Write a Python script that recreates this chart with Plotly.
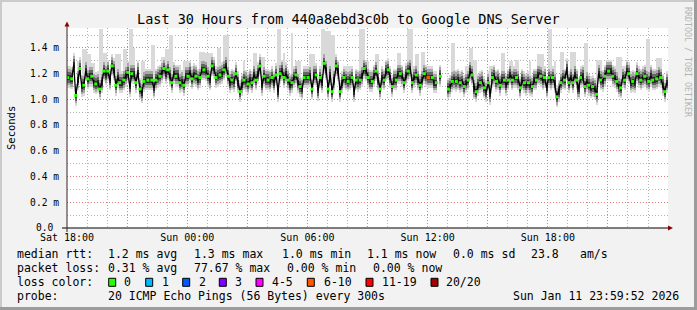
import plotly.graph_objects as go
import pandas as pd

# ---------------- data ----------------
# median RTT in ms, one value every 6 minutes (None = no data)
median_ms = [
    1.17, 1.17, 1.16, 1.27, 1.03, 1.15, 1.24, 1.10, 1.11, 1.22,
    1.16, 1.18, 1.18, 1.13, 1.12, 1.13, 1.08, 1.13, 1.22, 1.19,
    1.22, 1.15, 1.26, 1.23, 1.11, 1.17, 1.13, 1.13, 1.15, 1.18,
    1.21, 1.10, 1.20, 1.20, 1.13, 1.21, 1.08, 1.05, 1.14, 1.15,
    1.15, 1.15, 1.15, 1.09, 1.15, 1.17, 1.18, 1.21, 1.24, 1.20,
    1.23, 1.18, 1.13, 1.20, 1.18, 1.18, 1.13, 1.14, 1.11, 1.18,
    1.18, 1.21, 1.16, 1.19, 1.18, 1.15, 1.17, 1.23, 1.23, 1.22,
    1.18, 1.15, 1.26, 1.24,
    1.17, 1.18, 1.19, 1.20, 1.23, 1.26, 1.18, 1.13, 1.15, 1.14,
    1.20, 1.13, 1.06, 1.11, 1.15, 1.14, 1.12, 1.15, 1.13, 1.19,
    1.15, 1.20, 1.26, 1.11, 1.18, 1.15, 1.15, 1.14, 1.17, 1.13,
    1.19, 1.06, 1.20, 1.22, 1.17, 1.20, 1.15, 1.11, 1.13, 1.17,
    1.19, 1.13, 1.10, 1.08, 1.17, 1.17, 1.17, 1.18, 1.08, 1.19,
    1.19, 1.07, 1.17, 1.13, 1.28, 1.23, 1.08, 1.19, 1.06, 1.15,
    1.26, 1.22, 1.06, 1.13, 1.17, 1.15, 1.14, 1.15, 1.17, 1.06,
    1.15, 1.14, 1.15, 1.18, 1.24, 1.22,
    1.17, 1.14, 1.14, 1.18, 1.22, 1.15, 1.08, 1.17, 1.15, 1.22,
    1.23, 1.17, 1.10, 1.15, 1.15, 1.20, 1.20, 1.18, 1.13, 1.19,
    1.22, 1.24, 1.13, 1.17, 1.19, 1.15, 1.11, 1.15, 1.20, 1.18,
    1.17, 1.17, 1.17, 1.13, 1.13, None, 1.18, None, None, None,
    1.08, 1.10, 1.14, 1.15, 1.14, 1.15, 1.13, 1.14, 1.10, 1.13,
    1.15, 1.22, 1.19, 1.08, 1.06, 1.11, 1.13, 1.14, 1.09, 1.06,
    1.13, 1.04, 1.17, 1.18, 1.14, 1.15, 1.11, 1.15, 1.15, 1.11,
    1.15, 1.19, 1.15, 1.17, 1.17,
    1.15, 1.09, 1.15, 1.13, 1.11, 1.13, 1.11, 1.10, 1.15, 1.15,
    1.19, 1.18, 1.15, 1.17, 1.09, 1.17, 1.15, 1.17, 1.13, 1.02,
    1.06, 1.13, 1.16, 1.15, 1.23, 1.13, 1.17, 1.13, 1.19, 1.15,
    1.08, 1.17, 1.18, 1.10, 1.14, 1.11, 1.09, 1.10, 1.08, 1.04,
    1.20, 1.15, 1.14, 1.18, 1.22, 1.22, 1.22, 1.18, 1.17, 1.14,
    1.10, 1.09, 1.17, 1.15, 1.22, 1.20, 1.13, 1.14, 1.13, 1.20,
    1.17, 1.15, 1.17, 1.18, 1.15, 1.14, 1.18, 1.15, 1.15, 1.16,
    1.18, 1.17, 1.11, 1.06, 1.13,
]

# highest ping (light smoke top) where it rises well above the usual spread:
# (first sample index, last sample index, top in ms)
spike_ranges = [
    (5, 6, 1.30), (8, 9, 1.39), (10, 11, 1.35), (12, 13, 1.28), (16, 17, 1.55),
    (18, 19, 1.36), (20, 20, 1.30), (23, 23, 1.32), (24, 26, 1.35), (28, 29, 1.39),
    (31, 32, 1.55), (33, 33, 1.40), (37, 38, 1.30), (42, 43, 1.42), (47, 48, 1.33),
    (49, 50, 1.39), (51, 52, 1.50), (54, 56, 1.27), (58, 60, 1.30), (62, 64, 1.26),
    (66, 68, 1.37), (69, 72, 1.36), (75, 76, 1.40), (78, 80, 1.50), (88, 88, 1.30),
    (93, 94, 1.36), (97, 98, 1.33), (105, 106, 1.55), (108, 108, 1.36), (112, 112, 1.52),
    (114, 116, 1.30), (121, 123, 1.35), (127, 128, 1.55), (129, 131, 1.53), (132, 133, 1.50),
    (134, 135, 1.30), (139, 141, 1.26), (146, 148, 1.55), (149, 150, 1.30), (154, 155, 1.35),
    (159, 160, 1.30), (165, 166, 1.36), (170, 172, 1.55), (174, 175, 1.35), (177, 178, 1.37),
    (192, 193, 1.44), (199, 200, 1.26), (201, 202, 1.40), (203, 204, 1.31), (211, 212, 1.26),
    (217, 218, 1.36), (221, 222, 1.30), (224, 225, 1.31), (231, 231, 1.30), (235, 237, 1.35),
    (240, 241, 1.55), (243, 243, 1.30), (246, 247, 1.37), (251, 253, 1.37), (258, 259, 1.44),
    (264, 266, 1.31), (269, 270, 1.30), (274, 276, 1.33), (277, 279, 1.26), (289, 290, 1.47),
    (294, 296, 1.32),
]

loss_index = 180          # sample with 6-10 lost pings
loss_index_color = '#ff5500'

y_tickvals = [0.0, 0.2, 0.4, 0.6, 0.8, 1.0, 1.2, 1.4]
y_ticktext = ['0.0\u00a0', '0.2 m', '0.4 m', '0.6 m', '0.8 m', '1.0 m', '1.2 m', '1.4 m']
x_ticktext = ['Sat 18:00', '', 'Sun 00:00', '', 'Sun 06:00', '', 'Sun 12:00', '',
              'Sun 18:00', '', '']

stats_rtt = ['1.2 ms avg', '1.3 ms max', '1.0 ms min', '1.1 ms now', '0.0 ms sd', '23.8', 'am/s']
stats_loss = ['0.31 % avg', '77.67 % max', '0.00 % min', '0.00 % now']
loss_labels = ['0', '1', '2', '3', '4-5', '6-10', '11-19', '20/20']
loss_colors = ['#26ff00', '#00b8ff', '#0059ff', '#7e00ff', '#ff00ff', '#ff5500', '#ff0000', '#a10000']
probe_text = '20 ICMP Echo Pings (56 Bytes) every 300s'
stamp_text = 'Sun Jan 11 23:59:52 2026'
title_text = 'Last 30 Hours from 440a8ebd3c0b to Google DNS Server'

# ---------------- geometry / style ----------------
W, H = 697, 310
L, R, T, B = 67, 29, 28, 82
PW, PH = W - L - R, H - T - B
FONT = 'DejaVu Sans Mono'


def px(xp):
    return (xp - L) / PW


def py(yp):
    return (H - B - yp) / PH


start = pd.Timestamp('2026-01-10 18:02:00')
times = pd.date_range(start, periods=len(median_ms), freq='6min')
step_ms = 6 * 60 * 1000

light_top = [None if m is None else m + 0.09 for m in median_ms]
for a, b, top in spike_ranges:
    for i in range(a, b + 1):
        if median_ms[i] is not None:
            light_top[i] = max(light_top[i], top)

fig = go.Figure()


def band(lo_off, hi_vals, color):
    base, height = [], []
    for m, h in zip(median_ms, hi_vals):
        if m is None:
            base.append(None)
            height.append(None)
        else:
            base.append(m - lo_off)
            height.append(h - (m - lo_off))
    fig.add_trace(go.Bar(x=times, y=height, base=base, width=step_ms,
                         marker=dict(color=color, line=dict(width=0)),
                         hoverinfo='skip', showlegend=False))


band(0.08, light_top, '#d9d9d9')
band(0.06, [None if m is None else m + 0.07 for m in median_ms], '#a8a8a8')
band(0.04, [None if m is None else m + 0.045 for m in median_ms], '#666666')
band(0.022, [None if m is None else m + 0.022 for m in median_ms], '#2a2a2a')

fig.add_trace(go.Scatter(x=times, y=median_ms, mode='lines',
                         line=dict(color='#000000', width=1.3),
                         connectgaps=False, showlegend=False, hoverinfo='skip'))
mark_idx = [i for i in range(0, len(median_ms), 2) if median_ms[i] is not None]
fig.add_trace(go.Scatter(x=[times[i] for i in mark_idx], y=[median_ms[i] for i in mark_idx],
                         mode='markers',
                         marker=dict(color='#26ff00', size=3, symbol='square',
                                     line=dict(width=0)),
                         showlegend=False, hoverinfo='skip'))
fig.add_trace(go.Scatter(x=[times[loss_index]], y=[median_ms[loss_index]], mode='markers',
                         marker=dict(color=loss_index_color, size=3.5, symbol='square',
                                     line=dict(width=0)),
                         showlegend=False, hoverinfo='skip'))

x_tickvals = list(pd.date_range('2026-01-10 18:00', periods=len(x_ticktext), freq='3h'))

grid_major = 'rgba(240,110,110,0.8)'
grid_minor = 'rgba(160,160,160,0.8)'
dash = '1px,2px'

fig.update_layout(
    width=W, height=H,
    margin=dict(l=L, r=R, t=T, b=B, pad=0),
    paper_bgcolor='#f2f2f2', plot_bgcolor='#ffffff',
    barmode='overlay', bargap=0,
    showlegend=False,
    font=dict(family=FONT, color='#000000'),
    xaxis=dict(
        type='date',
        range=['2026-01-10 17:59:52', '2026-01-11 23:59:52'],
        tickvals=x_tickvals, ticktext=x_ticktext,
        tickfont=dict(family=FONT, size=10, color='#000000'),
        ticks='', ticklabelstandoff=2,
        showgrid=True, gridcolor=grid_major, griddash=dash, gridwidth=1,
        minor=dict(dtick=3600000, tick0='2026-01-10 18:00', showgrid=True,
                   gridcolor=grid_minor, griddash=dash, gridwidth=1, ticks=''),
        zeroline=False, showline=False, fixedrange=True,
    ),
    yaxis=dict(
        range=[0, PH / 128.6],
        tickvals=y_tickvals, ticktext=y_ticktext,
        tickfont=dict(family=FONT, size=9.6, color='#000000'),
        ticks='', ticklabelstandoff=7,
        showgrid=True, gridcolor=grid_major, griddash=dash, gridwidth=1,
        minor=dict(dtick=0.1, tick0=0, showgrid=True,
                   gridcolor=grid_minor, griddash=dash, gridwidth=1, ticks=''),
        zeroline=False, showline=False, fixedrange=True,
    ),
)

shapes = []
# image frame (3D border)
shapes.append(dict(type='rect', xref='paper', yref='paper', x0=px(0), x1=px(2), y0=py(H), y1=py(0),
                   fillcolor='#cbcbcb', line=dict(width=0), layer='above'))
shapes.append(dict(type='rect', xref='paper', yref='paper', x0=px(0), x1=px(W), y0=py(2), y1=py(0),
                   fillcolor='#cbcbcb', line=dict(width=0), layer='above'))
shapes.append(dict(type='rect', xref='paper', yref='paper', x0=px(W - 3), x1=px(W), y0=py(H), y1=py(0),
                   fillcolor='#9c9c9c', line=dict(width=0), layer='above'))
shapes.append(dict(type='rect', xref='paper', yref='paper', x0=px(0), x1=px(W), y0=py(H), y1=py(H - 3),
                   fillcolor='#9c9c9c', line=dict(width=0), layer='above'))
# axes
shapes.append(dict(type='line', xref='paper', yref='paper', x0=px(62), x1=px(668), y0=0, y1=0,
                   line=dict(color='#000000', width=1), layer='above'))
shapes.append(dict(type='line', xref='paper', yref='paper', x0=0, x1=0, y0=py(232), y1=py(24),
                   line=dict(color='#3a2020', width=1), layer='above'))
# arrows
shapes.append(dict(type='path', xref='paper', yref='paper',
                   path=f'M {px(668)} {py(225.5)} L {px(673)} {py(228)} L {px(668)} {py(230.5)} Z',
                   fillcolor='#8b0000', line=dict(width=0), layer='above'))
shapes.append(dict(type='path', xref='paper', yref='paper',
                   path=f'M {px(64.5)} {py(26.5)} L {px(67)} {py(21.5)} L {px(69.5)} {py(26.5)} Z',
                   fillcolor='#8b0000', line=dict(width=0), layer='above'))

ann = []


def text(x, y, s, size=11.5, anchor='left', color='#000000', angle=0):
    ann.append(dict(xref='paper', yref='paper', x=px(x), y=py(y), text=s, showarrow=False,
                    xanchor=anchor, yanchor='middle', textangle=angle, borderpad=0,
                    font=dict(family=FONT, size=size, color=color)))


text(348, 19, title_text, size=13.5, anchor='center')
text(11, 128, 'Seconds', size=10.5, anchor='center', angle=-90)
text(688, 62, 'RRDTOOL / TOBI OETIKER', size=8.3, anchor='center', color='#b4b4b4', angle=90)

row_y = [254.3, 268.3, 282.3, 296.2]
text(16, row_y[0], 'median rtt:')
for s, x in zip(stats_rtt, [107.3, 193.3, 281, 365.7, 451.7, 530, 579.3]):
    text(x, row_y[0], s)
text(16, row_y[1], 'packet loss:')
for s, x in zip(stats_loss, [107.3, 193.3, 286, 372.3]):
    text(x, row_y[1], s)
text(16, row_y[2], 'loss color:')
box_x = [108.7, 145.7, 182.7, 219.3, 256, 307.3, 366, 431]
lab_x = [123.3, 160.7, 197.7, 234.3, 271, 322.7, 380.7, 445]
for bx, lx, lab, col in zip(box_x, lab_x, loss_labels, loss_colors):
    shapes.append(dict(type='rect', xref='paper', yref='paper', x0=px(bx), x1=px(bx + 7),
                       y0=py(row_y[2] + 4), y1=py(row_y[2] - 4), fillcolor=col,
                       line=dict(color='#000000', width=1), layer='above'))
    text(lx, row_y[2], lab)
text(16, row_y[3], 'probe:')
text(107.3, row_y[3], probe_text)
text(680, row_y[3], stamp_text, anchor='right')

fig.update_layout(shapes=shapes, annotations=ann)
fig.write_html('out.html')
